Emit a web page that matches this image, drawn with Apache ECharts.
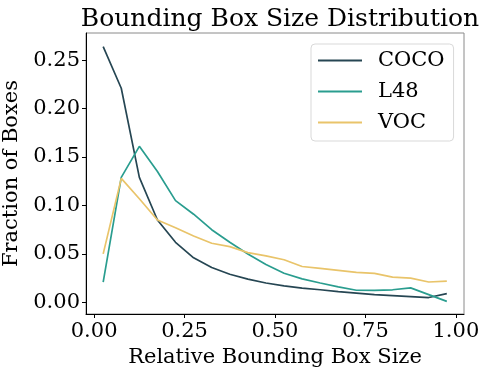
<!DOCTYPE html>
<html lang="en">
<head>
    <meta charset="UTF-8">
    <title>Bounding Box Size Distribution</title>
    <script src="https://cdn.jsdelivr.net/npm/echarts@6/dist/echarts.min.js"></script>
    <style>
        * { margin: 0; padding: 0; }
        #main { width: 488px; height: 375px; background: #fff; }
    </style>
</head>
<body>
    <div id="main"></div>
    <script>
        // bin centres (relative box size)
        var binCenters = [0.025, 0.075, 0.125, 0.175, 0.225, 0.275, 0.325, 0.375, 0.425, 0.475,
                          0.525, 0.575, 0.625, 0.675, 0.725, 0.775, 0.825, 0.875, 0.925, 0.975];
        var cocoVals = [0.264, 0.221, 0.129, 0.085, 0.062, 0.046, 0.036, 0.029, 0.024, 0.020,
                        0.017, 0.0148, 0.013, 0.011, 0.0095, 0.008, 0.007, 0.006, 0.005, 0.009];
        var l48Vals = [0.021, 0.129, 0.161, 0.135, 0.105, 0.091, 0.075, 0.062, 0.050, 0.039,
                       0.030, 0.0243, 0.020, 0.016, 0.0125, 0.0123, 0.013, 0.015, 0.008, 0.001];
        var vocVals = [0.050, 0.128, 0.107, 0.085, 0.077, 0.0685, 0.061, 0.0575, 0.0514, 0.048,
                       0.044, 0.037, 0.035, 0.033, 0.031, 0.030, 0.026, 0.025, 0.021, 0.022];
        var xTicks = [0, 0.25, 0.5, 0.75, 1];
        var yTicks = [0, 0.05, 0.10, 0.15, 0.20, 0.25];

        var font = 'DejaVu Serif';

        function pairs(vals) {
            var out = [];
            for (var i = 0; i < vals.length; i++) {
                out.push([binCenters[i], vals[i]]);
            }
            return out;
        }

        function lineSeries(name, vals, color) {
            return {
                name: name,
                type: 'line',
                data: pairs(vals),
                symbol: 'none',
                lineStyle: { color: color, width: 1.7 },
                itemStyle: { color: color },
                animation: false
            };
        }

        var chart = echarts.init(document.getElementById('main'));

        chart.setOption({
            backgroundColor: '#fff',
            title: {
                text: 'Bounding Box Size Distribution',
                left: 275,
                textAlign: 'center',
                top: 2,
                textStyle: { fontFamily: font, fontSize: 25, fontWeight: 'normal', color: '#000' }
            },
            legend: {
                orient: 'vertical',
                left: 311,
                top: 44,
                padding: [6, 9, 8, 7],
                itemWidth: 44,
                itemHeight: 2,
                itemGap: 10,
                icon: 'rect',
                borderColor: '#d9d9d9',
                borderWidth: 1,
                borderRadius: 4,
                textStyle: { fontFamily: font, fontSize: 21, color: '#000', padding: [0, 0, 0, 11] },
                data: ['COCO', 'L48', 'VOC']
            },
            grid: {
                left: 86,
                right: 24,
                top: 33,
                bottom: 61,
                outerBoundsMode: 'none',
                containLabel: false,
                show: true,
                borderColor: '#8a8a8a',
                borderWidth: 1
            },
            xAxis: {
                type: 'value',
                min: -0.0225,
                max: 1.0225,
                name: 'Relative Bounding Box Size',
                nameLocation: 'middle',
                nameGap: 30,
                nameTextStyle: { fontFamily: font, fontSize: 21, color: '#000' },
                axisLine: { onZero: false, lineStyle: { color: '#000', width: 1 } },
                axisTick: { show: true, length: 4, customValues: xTicks, lineStyle: { color: '#000' } },
                axisLabel: {
                    customValues: xTicks,
                    margin: 7,
                    fontFamily: font,
                    fontSize: 21,
                    color: '#000',
                    formatter: function (v) { return v.toFixed(2); }
                },
                splitLine: { show: false }
            },
            yAxis: {
                type: 'value',
                min: -0.012,
                max: 0.278,
                name: 'Fraction of Boxes',
                nameLocation: 'middle',
                nameGap: 55,
                nameTextStyle: { fontFamily: font, fontSize: 21, color: '#000' },
                axisLine: { show: true, onZero: false, lineStyle: { color: '#000', width: 1 } },
                axisTick: { show: true, length: 4, customValues: yTicks, lineStyle: { color: '#000' } },
                axisLabel: {
                    customValues: yTicks,
                    margin: 6,
                    fontFamily: font,
                    fontSize: 21,
                    color: '#000',
                    formatter: function (v) { return v.toFixed(2); }
                },
                splitLine: { show: false }
            },
            series: [
                lineSeries('COCO', cocoVals, '#264653'),
                lineSeries('L48', l48Vals, '#2a9d8f'),
                lineSeries('VOC', vocVals, '#e9c46a')
            ]
        });
    </script>
</body>
</html>
